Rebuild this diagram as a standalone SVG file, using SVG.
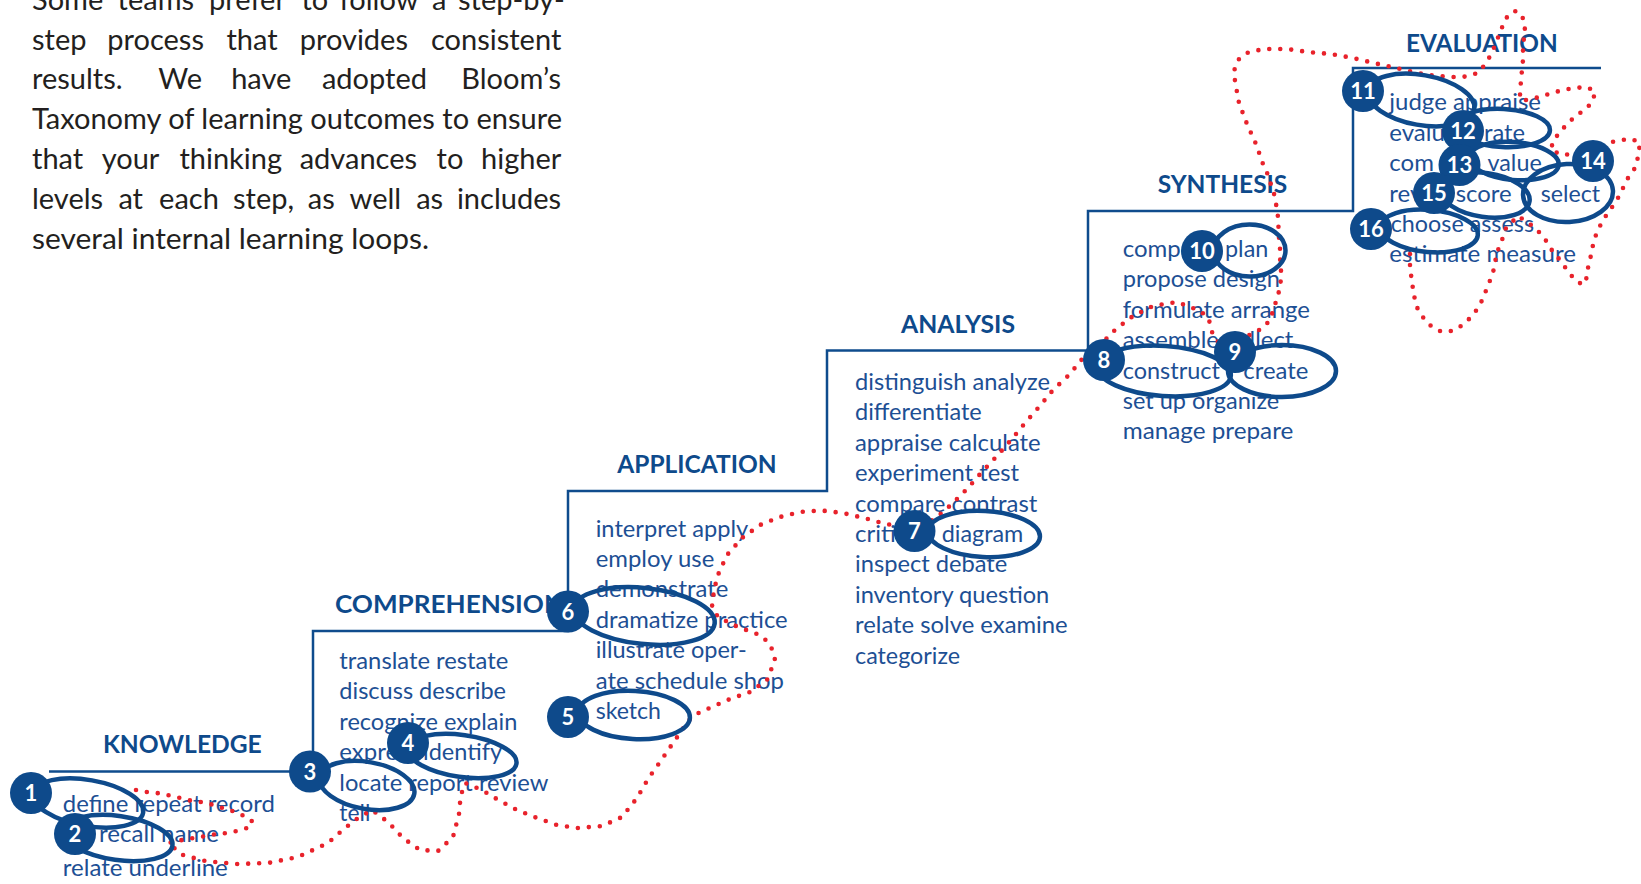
<svg xmlns="http://www.w3.org/2000/svg" width="1641" height="884" viewBox="0 0 1641 884">
<style>
.p{font-family:Lato,"Open Sans","Liberation Sans",sans-serif;font-size:29px;fill:#231F20}
.h{font-family:Lato,"Open Sans","Liberation Sans",sans-serif;font-weight:700;font-size:25.5px;fill:#0E4A8B}
.t{font-family:Lato,"Open Sans","Liberation Sans",sans-serif;font-size:24px;fill:#1D4F94}
.step{fill:none;stroke:#0F4C8D;stroke-width:2.5}
.ell{fill:none;stroke:#0E4A8B;stroke-width:4.5}
.bd circle{fill:#0E4A8B}
.bd text{font-family:Lato,"Open Sans","Liberation Sans",sans-serif;font-weight:700;font-size:22px;fill:#FFFFFF;text-anchor:middle}
.dots{fill:none;stroke:#E8222B;stroke-width:4.6;stroke-linecap:round;stroke-linejoin:round;stroke-dasharray:0 11}
</style>
<rect width="1641" height="884" fill="#FFFFFF"/>

<g id="intro">
<text class="p" y="9.7"><tspan x="32">Some</tspan><tspan x="117.6">teams</tspan><tspan x="209">prefer</tspan><tspan x="301.5">to</tspan><tspan x="339.6">follow</tspan><tspan x="432">a</tspan><tspan x="458">step-by-</tspan></text>
<text class="p" y="49.5"><tspan x="32">step</tspan><tspan x="107.3">process</tspan><tspan x="226.4">that</tspan><tspan x="299.7">provides</tspan><tspan x="431">consistent</tspan></text>
<text class="p" y="89.3"><tspan x="32">results.</tspan><tspan x="158.3">We</tspan><tspan x="231.2">have</tspan><tspan x="321.9">adopted</tspan><tspan x="461.3">Bloom’s</tspan></text>
<text class="p" x="32" y="129.1" textLength="530" lengthAdjust="spacingAndGlyphs">Taxonomy of learning outcomes to ensure</text>
<text class="p" y="168.9"><tspan x="32">that</tspan><tspan x="101.7">your</tspan><tspan x="179.4">thinking</tspan><tspan x="299.7">advances</tspan><tspan x="436.6">to</tspan><tspan x="481">higher</tspan></text>
<text class="p" y="208.7"><tspan x="32">levels</tspan><tspan x="118.4">at</tspan><tspan x="159.1">each</tspan><tspan x="233">step,</tspan><tspan x="307.8">as</tspan><tspan x="349.6">well</tspan><tspan x="416.2">as</tspan><tspan x="456.9">includes</tspan></text>
<text class="p" x="32" y="248.5" textLength="397" lengthAdjust="spacingAndGlyphs">several internal learning loops.</text>
</g>

<g id="staircase">
<path class="step" d="M49,771.5 H313 V631 H568 V491 H827 V350.5 H1088 V211 H1353 V68 H1601"/>
</g>

<g id="level-knowledge">
<text class="h" x="103" y="753" textLength="158.7" lengthAdjust="spacingAndGlyphs">KNOWLEDGE</text>
<text class="t" x="62.8" y="812" textLength="212" lengthAdjust="spacingAndGlyphs">define repeat record</text>
<text class="t" x="99" y="842" textLength="120" lengthAdjust="spacingAndGlyphs">recall name</text>
<text class="t" x="62.8" y="876" textLength="165" lengthAdjust="spacingAndGlyphs">relate underline</text>
</g>

<g id="level-comprehension">
<text class="h" x="335" y="613" textLength="229" lengthAdjust="spacingAndGlyphs">COMPREHENSION</text>
<text class="t" x="339.3" y="669" textLength="169" lengthAdjust="spacingAndGlyphs">translate restate</text>
<text class="t" x="339.3" y="699.4" textLength="166.7" lengthAdjust="spacingAndGlyphs">discuss describe</text>
<text class="t" x="339.3" y="729.8" textLength="178" lengthAdjust="spacingAndGlyphs">recognize explain</text>
<text class="t" x="339.3" y="760.2">expre</text>
<text class="t" x="423" y="760.2" textLength="79" lengthAdjust="spacingAndGlyphs">identify</text>
<text class="t" x="339.3" y="790.6" textLength="209" lengthAdjust="spacingAndGlyphs">locate report review</text>
<text class="t" x="339.3" y="821" textLength="31" lengthAdjust="spacingAndGlyphs">tell</text>
</g>

<g id="level-application">
<text class="h" x="617.3" y="473.3" textLength="159.4" lengthAdjust="spacingAndGlyphs">APPLICATION</text>
<text class="t" x="595.7" y="536.5" textLength="152.6" lengthAdjust="spacingAndGlyphs">interpret apply</text>
<text class="t" x="595.7" y="567" textLength="118.6" lengthAdjust="spacingAndGlyphs">employ use</text>
<text class="t" x="595.7" y="597.4" textLength="132.6" lengthAdjust="spacingAndGlyphs">demonstrate</text>
<text class="t" x="595.7" y="627.8" textLength="192" lengthAdjust="spacingAndGlyphs">dramatize practice</text>
<text class="t" x="595.7" y="658.2" textLength="151" lengthAdjust="spacingAndGlyphs">illustrate oper-</text>
<text class="t" x="595.7" y="688.6" textLength="188.3" lengthAdjust="spacingAndGlyphs">ate schedule shop</text>
<text class="t" x="595.7" y="719" textLength="65.3" lengthAdjust="spacingAndGlyphs">sketch</text>
</g>

<g id="level-analysis">
<text class="h" x="901" y="333.3" textLength="114" lengthAdjust="spacingAndGlyphs">ANALYSIS</text>
<text class="t" x="855" y="390" textLength="195" lengthAdjust="spacingAndGlyphs">distinguish analyze</text>
<text class="t" x="855" y="420.4" textLength="126.7" lengthAdjust="spacingAndGlyphs">differentiate</text>
<text class="t" x="855" y="450.8" textLength="185.7" lengthAdjust="spacingAndGlyphs">appraise calculate</text>
<text class="t" x="855" y="481.2" textLength="164" lengthAdjust="spacingAndGlyphs">experiment test</text>
<text class="t" x="855" y="511.6" textLength="182.3" lengthAdjust="spacingAndGlyphs">compare contrast</text>
<text class="t" x="855" y="542">criti</text>
<text class="t" x="941.7" y="542" textLength="81.6" lengthAdjust="spacingAndGlyphs">diagram</text>
<text class="t" x="855" y="572.4" textLength="152.3" lengthAdjust="spacingAndGlyphs">inspect debate</text>
<text class="t" x="855" y="602.8" textLength="194.3" lengthAdjust="spacingAndGlyphs">inventory question</text>
<text class="t" x="855" y="633.2" textLength="212.7" lengthAdjust="spacingAndGlyphs">relate solve examine</text>
<text class="t" x="855" y="663.6" textLength="105" lengthAdjust="spacingAndGlyphs">categorize</text>
</g>

<g id="level-synthesis">
<text class="h" x="1157.7" y="193.3" textLength="129.6" lengthAdjust="spacingAndGlyphs">SYNTHESIS</text>
<text class="t" x="1122.7" y="257">comp</text>
<text class="t" x="1225" y="257" textLength="43.3" lengthAdjust="spacingAndGlyphs">plan</text>
<text class="t" x="1122.7" y="287.4" textLength="157.3" lengthAdjust="spacingAndGlyphs">propose design</text>
<text class="t" x="1122.7" y="317.8" textLength="187.3" lengthAdjust="spacingAndGlyphs">formulate arrange</text>
<text class="t" x="1122.7" y="348.2" textLength="170.6" lengthAdjust="spacingAndGlyphs">assemble collect</text>
<text class="t" x="1122.7" y="378.6" textLength="97.3" lengthAdjust="spacingAndGlyphs">construct</text>
<text class="t" x="1243.3" y="378.6" textLength="65" lengthAdjust="spacingAndGlyphs">create</text>
<text class="t" x="1122.7" y="409" textLength="156.6" lengthAdjust="spacingAndGlyphs">set up organize</text>
<text class="t" x="1122.7" y="439.4" textLength="170.6" lengthAdjust="spacingAndGlyphs">manage prepare</text>
</g>

<g id="level-evaluation">
<text class="h" x="1406" y="52.3" textLength="151.7" lengthAdjust="spacingAndGlyphs">EVALUATION</text>
<text class="t" x="1389.3" y="110" textLength="151.7" lengthAdjust="spacingAndGlyphs">judge appraise</text>
<text class="t" x="1389.3" y="140.5">evalu</text>
<text class="t" x="1484" y="140.5" textLength="41" lengthAdjust="spacingAndGlyphs">rate</text>
<text class="t" x="1389.3" y="171">com</text>
<text class="t" x="1487.5" y="171" textLength="54.2" lengthAdjust="spacingAndGlyphs">value</text>
<text class="t" x="1389.3" y="201.5">rev</text>
<text class="t" x="1455.7" y="201.5" textLength="56" lengthAdjust="spacingAndGlyphs">score</text>
<text class="t" x="1540.7" y="201.5" textLength="59.3" lengthAdjust="spacingAndGlyphs">select</text>
<text class="t" x="1390.7" y="231.5" textLength="143.3" lengthAdjust="spacingAndGlyphs">choose assess</text>
<text class="t" x="1389.3" y="262" textLength="186.7" lengthAdjust="spacingAndGlyphs">estimate measure</text>
</g>

<g id="connectors">
<polyline class="dots" points="136,790 147,792 157,793 167,795 177,797 187,800 208,803 218,807 228,809 237,813 247,817 253,822 247,828 237,831 227,833 217,834 200,837 182,840 168,843 183,855 205,861 237,864 268,863 298,857 328,843 345,828 358,818 372,810 388,822 403,838 420,850 438,851 453,837 459,814 460,803 462,792 465,783 477,788 487,793 495,798 517,810 537,818 557,825 578,828 602,826 622,817 637,798 648,779 660,762 673,743 687,723 690,719 700,712 712,707 730,699 750,692 767,680 775,660 773,651 768,642 760,635 738,627 718,617 712,607 713,597 717,577 727,555 742,538 760,525 780,517 800,512 821,510.5 843,513 864,518 886,524 905,527 925,524 936,518 952,504 967,489 981,473 997,456 1011,440 1025,423 1039,407 1053,390 1069,375 1083,358 1095,350 1108,337 1116,329 1133,316 1153,306 1177,302 1198,310 1207,316 1210,323 1212,332 1218,342 1240,340 1263,328 1270,320 1274,308 1277,298 1280,288 1281,278 1281,268 1280,258 1280,248 1279,238 1278,217 1275,197 1268,175 1263,164 1256,144 1247,124 1239,103 1235,81 1234,71 1238,60 1247,53 1263,49 1287,49 1308,52 1331,54 1353,58 1374,63 1396,68 1418,73 1429,75 1440,76 1452,77 1463,77 1478,73 1483,67 1488,60 1493,50 1501,30 1505,20 1510,13 1516,11 1522,15 1525,27 1524,37 1523,50 1523,60 1521,80 1520,95 1522,101 1530,99 1540,97 1552,93 1563,90 1575,88 1586,87 1595,91 1593,101 1586,109 1577,115 1568,123 1560,132 1553,141 1551,150 1562,155 1572,154 1593,161 1612,142 1622,140 1632,139 1640,143 1638,157 1635,168 1628,178 1623,188 1617,200 1610,210 1603,220 1598,230 1594,240 1592,250 1590,260 1588,268 1587,277 1583,285 1575,280 1567,270 1560,260 1553,252 1547,242 1540,233 1530,224 1518,216 1506,228 1502,240 1498,250 1495,262 1493,273 1489,283 1485,293 1480,305 1473,315 1465,323 1457,329 1448,332 1440,331 1432,327 1425,320 1418,310 1415,300 1413,290 1412,280 1410,270 1410,260 1410,252"/>
</g>

<g id="rings">
<ellipse id="ring-1" class="ell" cx="88" cy="803" rx="56" ry="23" transform="rotate(10 88 803)"/>
<ellipse id="ring-2" class="ell" cx="118" cy="838" rx="55" ry="22" transform="rotate(8 118 838)"/>
<ellipse id="ring-3" class="ell" cx="367" cy="785.5" rx="48" ry="23.5" transform="rotate(10 367 785.5)"/>
<ellipse id="ring-4" class="ell" cx="462" cy="756" rx="55" ry="21" transform="rotate(8 462 756)"/>
<ellipse id="ring-5" class="ell" cx="634" cy="715" rx="56" ry="24" transform="rotate(3 634 715)"/>
<ellipse id="ring-6" class="ell" cx="644" cy="616" rx="71" ry="28" transform="rotate(6 644 616)"/>
<ellipse id="ring-7" class="ell" cx="984" cy="534" rx="56" ry="23" transform="rotate(3 984 534)"/>
<ellipse id="ring-8" class="ell" cx="1164" cy="371" rx="67" ry="25" transform="rotate(4 1164 371)"/>
<ellipse id="ring-9" class="ell" cx="1282" cy="371" rx="54" ry="26"/>
<ellipse id="ring-10" class="ell" cx="1249.5" cy="250.5" rx="36" ry="26"/>
<ellipse id="ring-11" class="ell" cx="1421" cy="100" rx="54" ry="25" transform="rotate(10 1421 100)"/>
<ellipse id="ring-12" class="ell" cx="1503" cy="128" rx="47" ry="19" transform="rotate(3 1503 128)"/>
<ellipse id="ring-13" class="ell" cx="1514" cy="161" rx="45" ry="19" transform="rotate(5 1514 161)"/>
<ellipse id="ring-14" class="ell" cx="1568" cy="193" rx="45" ry="29" transform="rotate(-3 1568 193)"/>
<ellipse id="ring-15" class="ell" cx="1485" cy="195" rx="45" ry="22" transform="rotate(8 1485 195)"/>
<ellipse id="ring-16" class="ell" cx="1429" cy="231" rx="49" ry="21" transform="rotate(5 1429 231)"/>
</g>

<g id="badge-1" class="bd"><circle cx="31" cy="793" r="21"/><text x="31" y="801">1</text></g>
<g id="badge-2" class="bd"><circle cx="75" cy="834" r="21"/><text x="75" y="842">2</text></g>
<g id="badge-3" class="bd"><circle cx="310" cy="771.5" r="21"/><text x="310" y="779.5">3</text></g>
<g id="badge-4" class="bd"><circle cx="408" cy="743" r="21"/><text x="408" y="751">4</text></g>
<g id="badge-5" class="bd"><circle cx="568" cy="717" r="21"/><text x="568" y="725">5</text></g>
<g id="badge-6" class="bd"><circle cx="568" cy="611.5" r="21"/><text x="568" y="619.5">6</text></g>
<g id="badge-7" class="bd"><circle cx="914.5" cy="531" r="21"/><text x="914.5" y="539">7</text></g>
<g id="badge-8" class="bd"><circle cx="1104" cy="360" r="21"/><text x="1104" y="368">8</text></g>
<g id="badge-9" class="bd"><circle cx="1235" cy="352" r="21"/><text x="1235" y="360">9</text></g>
<g id="badge-10" class="bd"><circle cx="1202" cy="251" r="21"/><text x="1202" y="259">10</text></g>
<g id="badge-11" class="bd"><circle cx="1363" cy="91" r="21"/><text x="1363" y="99">11</text></g>
<g id="badge-12" class="bd"><circle cx="1463" cy="131" r="21"/><text x="1463" y="139">12</text></g>
<g id="badge-13" class="bd"><circle cx="1459.5" cy="165" r="21"/><text x="1459.5" y="173">13</text></g>
<g id="badge-14" class="bd"><circle cx="1593" cy="161" r="21"/><text x="1593" y="169">14</text></g>
<g id="badge-15" class="bd"><circle cx="1434" cy="193" r="21"/><text x="1434" y="201">15</text></g>
<g id="badge-16" class="bd"><circle cx="1371" cy="229" r="21"/><text x="1371" y="237">16</text></g>
</svg>
